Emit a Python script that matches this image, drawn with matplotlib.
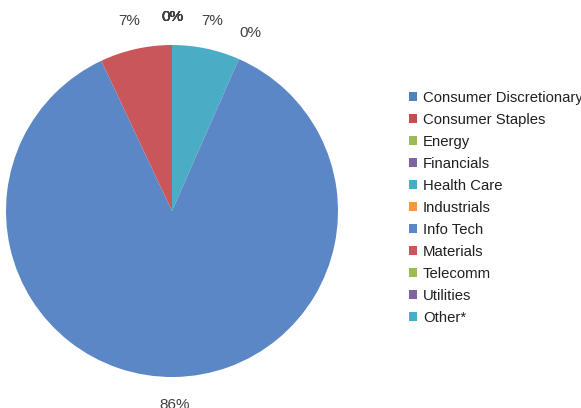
import matplotlib
matplotlib.use("Agg")
import matplotlib.pyplot as plt
from matplotlib.patches import Patch

plt.rcParams['font.family'] = ['Liberation Sans', 'DejaVu Sans']

categories = ["Consumer Discretionary", "Consumer Staples", "Energy", "Financials",
              "Health Care", "Industrials", "Info Tech", "Materials", "Telecomm",
              "Utilities", "Other*"]
values = [0, 0, 0, 0, 6.6, 0, 86.4, 7.0, 0, 0, 0]
colors = ["#4F81BD", "#C0504D", "#9BBB59", "#8064A2", "#4BACC6", "#F79646",
          "#5B87C6", "#C9565A", "#9BBB59", "#8064A2", "#4BACC6"]

fig = plt.figure(figsize=(5.81, 4.08), dpi=100)
W, H = 581, 408
cx, cy, r = 172, 211, 166
ax = fig.add_axes([(cx - r) / W, (H - cy - r) / H, 2 * r / W, 2 * r / H])

wedges, texts, autotexts = ax.pie(values, colors=colors, startangle=90, counterclock=False,
                                  radius=1, autopct=lambda p: f"{p:.0f}%", pctdistance=1.17,
                                  textprops=dict(fontsize=11, color="#404040"),
                                  wedgeprops=dict(linewidth=0))
ax.set_xlim(-1, 1)
ax.set_ylim(-1, 1)
ax.axis('off')
for t in autotexts:
    t.set_clip_on(False)

handles = [Patch(facecolor=c, edgecolor='none') for c in colors]
fig.legend(handles, categories, loc='upper left', bbox_to_anchor=(409 / W, 1 - 91 / H),
           frameon=False, fontsize=10.7, handlelength=0.55, handleheight=0.55,
           handletextpad=0.4, labelspacing=0.535, borderpad=0, borderaxespad=0,
           labelcolor="#202020")

fig.savefig("out.png", dpi=100)
